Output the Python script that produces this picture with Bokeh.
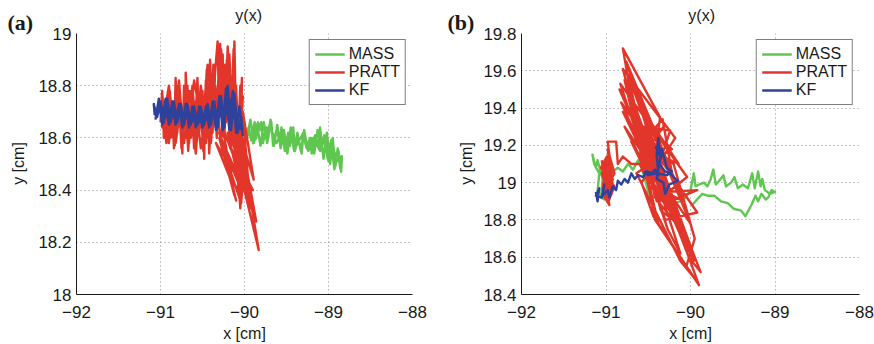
from bokeh.plotting import figure
from bokeh.layouts import row, column
from bokeh.models import (Label, Legend, LegendItem, FixedTicker,
                          CustomJSTickFormatter, Range1d)
from bokeh.embed import file_html
from bokeh.resources import INLINE

# ---------------- data ----------------
x_ticks = [-92, -91, -90, -89, -88]
y_ticks_a = [18, 18.2, 18.4, 18.6, 18.8, 19]
y_ticks_b = [18.4, 18.6, 18.8, 19, 19.2, 19.4, 19.6, 19.8]
series_names = ["MASS", "PRATT", "KF"]
panel_letters = ["(a)", "(b)"]
title_text = "y(x)"
x_label = "x [cm]"
y_label = "y [cm]"

# panel (a) MASS
mass_a_x = [-90.00, -89.95, -89.92, -89.88, -89.86, -89.90, -89.84, -89.80, -89.78, -89.74,
            -89.72, -89.68, -89.66, -89.62, -89.58, -89.56, -89.52, -89.48, -89.46, -89.42,
            -89.40, -89.36, -89.32, -89.30, -89.26, -89.22, -89.20, -89.16, -89.12, -89.10,
            -89.06, -89.02, -88.98, -88.95, -88.92, -88.88, -88.85, -88.84,
            -88.90, -88.96, -89.00, -89.04, -89.10, -89.18, -89.24, -89.30, -89.38, -89.44,
            -89.50, -89.56, -89.62, -89.70, -89.76, -89.84, -89.90, -89.96,
            -89.97, -89.93, -89.89, -89.85, -89.81, -89.77, -89.73, -89.69, -89.65, -89.61,
            -89.57, -89.53, -89.49, -89.45, -89.41, -89.37, -89.33, -89.29, -89.25, -89.21,
            -89.17, -89.13, -89.09, -89.05, -89.01, -88.97, -88.93, -88.89, -88.86]
mass_a_y = [18.62, 18.64, 18.59, 18.66, 18.60, 18.58, 18.62, 18.66, 18.58, 18.64,
            18.60, 18.66, 18.57, 18.63, 18.59, 18.64, 18.55, 18.62, 18.57, 18.64,
            18.55, 18.60, 18.54, 18.61, 18.56, 18.60, 18.54, 18.61, 18.57, 18.64,
            18.52, 18.62, 18.50, 18.60, 18.49, 18.55, 18.47, 18.53,
            18.51, 18.58, 18.51, 18.60, 18.55, 18.60, 18.55, 18.62, 18.57, 18.63,
            18.56, 18.62, 18.58, 18.65, 18.60, 18.66, 18.60, 18.62,
            18.60, 18.67, 18.58, 18.65, 18.57, 18.66, 18.58, 18.67, 18.57, 18.65,
            18.56, 18.63, 18.54, 18.64, 18.55, 18.62, 18.55, 18.63, 18.56, 18.60,
            18.54, 18.63, 18.56, 18.61, 18.52, 18.59, 18.48, 18.56, 18.48]

# panel (a) PRATT
pratt_a_x = [-91.00, -90.98, -90.95, -90.92, -90.90, -90.86, -90.84, -90.82, -90.80, -90.77,
             -90.74, -90.72, -90.70, -90.70, -90.66, -90.63, -90.60, -90.56, -90.54, -90.50,
             -90.48, -90.46, -90.43, -90.41, -90.38, -90.35, -90.32, -90.30, -90.26, -90.24,
             -90.20, -90.16, -90.12, -90.10, -90.14, -90.08, -90.03, -90.05, -90.00, -90.05,
             -90.10, -89.98, -90.12, -89.93, -90.02, -89.89, -90.06, -89.83, -90.15, -90.22,
             -90.28, -90.35, -90.40, -90.45, -90.52, -90.58, -90.64, -90.68, -90.75, -90.80,
             -90.88, -90.94, -90.98, -90.90, -90.85, -90.78, -90.72, -90.65, -90.58, -90.52,
             -90.46, -90.40, -90.34, -90.30, -90.22, -90.18, -90.14, -90.10, -90.06, -90.02,
             -90.08, -90.00, -90.04, -90.30, -90.12, -90.26, -90.00, -90.20, -90.28, -90.18,
             -90.24, -90.36, -90.44, -90.50, -90.60, -90.66, -90.76, -90.82, -90.92, -90.96,
             -90.97, -90.93, -90.89, -90.83, -90.79, -90.75, -90.71, -90.67, -90.62, -90.57,
             -90.53, -90.49, -90.45, -90.42, -90.37, -90.33, -90.29, -90.25, -90.21, -90.17,
             -90.13, -90.09, -90.05, -90.01, -90.07, -89.96, -90.10, -89.90, -90.16, -89.86,
             -90.02, -90.30, -90.10, -90.24, -90.04, -90.20, -89.98, -90.16, -89.92, -90.34,
             -90.14, -90.28, -90.06]
pratt_a_y = [18.66, 18.78, 18.62, 18.76, 18.58, 18.74, 18.56, 18.83, 18.62, 18.78,
             18.54, 18.80, 18.60, 18.85, 18.58, 18.76, 18.56, 18.83, 18.62, 18.78,
             18.52, 18.82, 18.60, 18.90, 18.62, 18.85, 18.97, 18.68, 18.92, 18.60,
             18.95, 18.66, 18.97, 18.62, 18.86, 18.55, 18.83, 18.45, 18.60, 18.33,
             18.58, 18.37, 18.62, 18.33, 18.70, 18.44, 18.62, 18.17, 18.60, 18.78,
             18.58, 18.80, 18.58, 18.72, 18.56, 18.74, 18.60, 18.80, 18.62, 18.76,
             18.60, 18.72, 18.64, 18.80, 18.60, 18.82, 18.58, 18.78, 18.54, 18.80,
             18.58, 18.84, 18.64, 18.90, 18.66, 18.92, 18.58, 18.80, 18.50, 18.76,
             18.40, 18.50, 18.35, 18.60, 18.38, 18.64, 18.42, 18.70, 18.94, 18.64,
             18.88, 18.66, 18.88, 18.64, 18.82, 18.62, 18.72, 18.58, 18.70, 18.60,
             18.74, 18.58, 18.78, 18.57, 18.80, 18.56, 18.76, 18.55, 18.80, 18.58,
             18.76, 18.55, 18.86, 18.54, 18.88, 18.60, 18.96, 18.62, 18.90, 18.56,
             18.94, 18.48, 18.80, 18.40, 18.70, 18.36, 18.52, 18.40, 18.56, 18.28,
             18.56, 18.62, 18.36, 18.56, 18.40, 18.62, 18.46, 18.50, 18.36, 18.58,
             18.42, 18.60, 18.44]

# panel (a) KF
kf_a_x = [-91.06, -91.02, -90.98, -90.94, -90.90, -90.86, -90.82, -90.78, -90.74, -90.70,
          -90.66, -90.62, -90.58, -90.54, -90.50, -90.46, -90.42, -90.38, -90.34, -90.30,
          -90.26, -90.22, -90.18, -90.14, -90.10, -90.06, -90.02,
          -90.04, -90.08, -90.12, -90.16, -90.20, -90.24, -90.28, -90.32, -90.36, -90.40,
          -90.44, -90.48, -90.52, -90.56, -90.60, -90.64, -90.68, -90.72, -90.76, -90.80,
          -90.84, -90.88, -90.92, -90.96, -91.00, -91.04, -91.08, -91.07,
          -91.03, -90.98, -90.93, -90.88, -90.83, -90.78, -90.73, -90.68, -90.63, -90.58,
          -90.53, -90.48, -90.43, -90.38, -90.33, -90.28, -90.23, -90.18, -90.13, -90.08,
          -90.03]
kf_a_y = [18.67, 18.75, 18.65, 18.75, 18.65, 18.74, 18.65, 18.73, 18.64, 18.73,
          18.64, 18.72, 18.64, 18.72, 18.64, 18.72, 18.64, 18.74, 18.63, 18.76,
          18.63, 18.79, 18.63, 18.78, 18.62, 18.72, 18.61,
          18.68, 18.62, 18.77, 18.63, 18.80, 18.64, 18.76, 18.64, 18.74, 18.65,
          18.73, 18.65, 18.72, 18.65, 18.72, 18.65, 18.73, 18.65, 18.73, 18.66,
          18.74, 18.66, 18.75, 18.66, 18.74, 18.68, 18.73, 18.69,
          18.70, 18.72, 18.68, 18.71, 18.67, 18.70, 18.67, 18.70, 18.66, 18.69,
          18.66, 18.69, 18.66, 18.70, 18.67, 18.72, 18.68, 18.75, 18.68, 18.66,
          18.63]

# panel (b) MASS
mass_b_x = [-91.10, -91.08, -91.14, -91.16, -91.12, -91.10, -91.04, -91.06, -91.02, -90.98,
            -90.92, -90.86, -90.80, -90.74, -90.68, -90.62, -90.58, -90.54, -90.50, -90.46,
            -90.40, -90.34, -90.28, -90.20, -90.12, -90.06, -90.00, -89.96, -89.94, -89.90,
            -89.84, -89.80, -89.76, -89.73, -89.70, -89.66, -89.61, -89.58, -89.52, -89.48,
            -89.44, -89.38, -89.32, -89.27, -89.24, -89.20, -89.17, -89.15, -89.12, -89.06,
            -89.00, -89.04, -89.08, -89.11, -89.16, -89.20, -89.23, -89.28, -89.35, -89.40,
            -89.49, -89.56, -89.64, -89.72, -89.80, -89.86, -89.92, -89.98]
mass_b_y = [18.95, 19.05, 19.10, 19.15, 19.08, 19.12, 19.02, 18.92, 18.91, 18.98,
            19.06, 19.08, 19.06, 19.10, 19.07, 19.12, 19.08, 19.02, 18.95, 18.92,
            18.93, 18.90, 18.92, 18.89, 18.90, 18.92, 18.96, 19.05, 18.98, 18.99,
            19.00, 18.98, 19.02, 19.07, 18.99, 19.01, 19.04, 18.98, 19.00, 19.03,
            18.97, 18.99, 18.97, 19.05, 18.97, 19.06, 18.98, 19.02, 18.96, 18.94,
            18.95, 18.96, 18.92, 18.91, 18.94, 18.90, 18.93, 18.88, 18.82, 18.85,
            18.86, 18.89, 18.90, 18.93, 18.93, 18.94, 18.91, 18.88]

# panel (b) PRATT
pratt_b_x = [-91.05, -90.96, -91.04, -90.90, -90.98, -90.92,
             -90.95, -91.02, -90.98, -91.05, -90.96, -91.03, -90.94, -91.00, -90.92, -90.97,
             -90.90, -91.06, -90.99, -91.04, -90.93, -91.01, -90.96, -90.98, -90.88, -90.86,
             -90.80, -90.70, -90.60, -90.55,
             -90.80, -90.36, -90.45, -90.18, -90.80, -90.40, -90.04, -90.83, -90.30, -89.92,
             -90.82, -90.10, -89.90, -90.38, -90.70, -90.02, -89.88, -90.55, -90.24, -90.48,
             -90.78, -90.12, -90.27, -90.60, -90.33, -90.20, -90.76, -90.08, -90.30, -89.92,
             -90.25, -90.50, -90.72, -90.15, -90.35, -90.65, -90.40, -90.58, -90.44, -90.05,
             -89.95, -90.20, -90.62, -90.45, -90.68, -90.22, -90.52, -90.10, -90.42, -90.74,
             -90.00, -90.36,
             -90.84, -90.06, -90.74, -89.96, -90.80, -90.18, -90.66, -90.00, -90.78, -90.28,
             -90.58, -90.14, -90.70, -90.36, -90.50, -90.22, -90.64, -90.12, -89.94, -90.42,
             -90.56, -90.32]
pratt_b_y = [19.12, 18.88, 18.94, 19.05, 19.18, 18.96,
             19.00, 19.10, 18.95, 19.05, 19.12, 18.98, 19.08, 18.92, 19.02, 18.90,
             18.98, 19.08, 19.14, 18.96, 19.06, 18.94, 19.15, 19.22, 19.22, 19.10,
             19.14, 19.10, 19.10, 19.05,
             19.72, 19.35, 19.05, 19.24, 19.61, 18.90, 19.03, 19.53, 18.80, 18.84,
             19.43, 18.70, 18.45, 18.78, 19.40, 18.60, 18.52, 19.30, 19.28, 18.95,
             19.55, 18.62, 18.75, 19.20, 19.34, 19.00, 19.65, 18.90, 18.95, 18.96,
             18.90, 19.10, 19.48, 18.78, 18.85, 19.35, 19.12, 19.00, 18.82, 18.55,
             18.70, 19.10, 19.25, 19.00, 19.44, 18.86, 19.18, 18.74, 18.92, 19.58,
             18.66, 19.05,
             19.50, 18.68, 19.62, 18.58, 19.38, 18.80, 19.50, 18.78, 19.30, 18.86,
             19.40, 19.10, 19.22, 18.90, 19.30, 19.18, 19.05, 18.58, 18.48, 18.80,
             19.15, 19.30]

# panel (b) KF
kf_b_x = [-91.12, -91.10, -91.08, -91.12, -91.05, -91.02, -91.04, -90.98, -90.96, -90.92,
          -90.88, -90.86, -90.82, -90.78, -90.74, -90.70, -90.66, -90.62, -90.56, -90.52,
          -90.46, -90.42, -90.38, -90.40, -90.38, -90.36, -90.41, -90.33, -90.37, -90.30,
          -90.24, -90.20, -90.15, -90.25, -90.30, -90.32, -90.40, -90.34, -90.28, -90.22,
          -90.28, -90.40, -90.50, -90.55]
kf_b_y = [18.95, 18.90, 18.97, 18.93, 18.92, 18.99, 18.93, 18.96, 18.92, 18.98,
          18.96, 19.01, 18.99, 19.02, 19.00, 19.05, 19.02, 19.04, 19.03, 19.06,
          19.05, 19.07, 19.04, 19.15, 19.24, 19.14, 19.19, 19.17, 19.10, 19.06,
          19.05, 19.03, 19.01, 18.99, 18.94, 19.00, 19.02, 19.18, 19.08, 19.06,
          19.04, 19.05, 19.04, 19.06]

# ---------------- style ----------------
FONT = "Liberation Sans"
TEXT_COLOR = "#1a1a1a"
COLORS = ["#5fc64f", "#e2362a", "#2e429c"]
TOTAL_H = 344
STRIP_H = 24
MAIN_H = TOTAL_H - STRIP_H
TOP, BOTTOM = 9, 49

tick_js = """
var r = Math.round(tick);
var s = (Math.abs(tick - r) < 1e-9) ? String(r) : tick.toFixed(1);
return s.replace('-', '\u2212');
"""


def blank(width, height, x0, x1):
    """Axis-less figure in page-pixel coordinates (y grows downward)."""
    f = figure(width=width, height=height, x_range=Range1d(x0, x1),
               y_range=Range1d(height, 0),
               x_axis_type=None, y_axis_type=None, output_backend="svg",
               toolbar_location=None, min_border=0)
    f.outline_line_color = None
    f.xgrid.visible = False
    f.ygrid.visible = False
    f.border_fill_color = "white"
    f.background_fill_color = "white"
    return f


def make_panel(width, left, right, y_ticks, data):
    p = figure(width=width, height=MAIN_H, x_range=Range1d(x_ticks[0], x_ticks[-1]),
               y_range=Range1d(y_ticks[0], y_ticks[-1]), output_backend="svg",
               toolbar_location=None, min_border_left=left, min_border_right=right,
               min_border_top=TOP, min_border_bottom=BOTTOM)
    p.outline_line_color = None
    p.background_fill_color = "white"
    p.border_fill_color = "white"

    for ax, ticks, stand in ((p.xaxis, x_ticks, 11), (p.yaxis, y_ticks, 5)):
        ax.ticker = FixedTicker(ticks=ticks)
        ax.formatter = CustomJSTickFormatter(code=tick_js)
        ax.axis_line_color = "#1a1a1a"
        ax.axis_line_width = 1
        ax.major_tick_line_color = None
        ax.minor_tick_line_color = None
        ax.major_tick_out = 0
        ax.major_tick_in = 0
        ax.major_label_standoff = stand
        ax.major_label_text_font = FONT
        ax.major_label_text_font_size = "17px"
        ax.major_label_text_color = TEXT_COLOR
    p.xaxis.axis_label = x_label
    p.xaxis.axis_label_standoff = 4
    p.xaxis.axis_label_text_font = FONT
    p.xaxis.axis_label_text_font_size = "16px"
    p.xaxis.axis_label_text_font_style = "normal"
    p.xaxis.axis_label_text_color = TEXT_COLOR

    for g in (p.xgrid, p.ygrid):
        g.grid_line_color = "#8c8c8c"
        g.grid_line_dash = "1 3"
        g.grid_line_width = 1

    items = []
    for name, (xs, ys), col in zip(series_names, data, COLORS):
        r = p.line(xs, ys, line_color=col, line_width=2.4, line_join="round")
        items.append(LegendItem(label=name, renderers=[r]))

    leg = Legend(items=items, location="top_right", margin=6, padding=5, spacing=0,
                 glyph_width=30, glyph_height=18, label_height=18, label_standoff=4,
                 label_text_font=FONT, label_text_font_size="16px",
                 label_text_color=TEXT_COLOR,
                 border_line_color="black", border_line_width=1,
                 background_fill_color="white", background_fill_alpha=1.0)
    p.add_layout(leg)
    return p


def side_column(x0, x1, letter, letter_x, ylab_x):
    f = blank(x1 - x0, TOTAL_H, x0, x1)
    f.add_layout(Label(x=letter_x, y=22, text=letter, text_align="left",
                       text_baseline="middle", text_font="Liberation Serif",
                       text_font_style="bold", text_font_size="22px", text_color=TEXT_COLOR))
    f.add_layout(Label(x=ylab_x, y=163, text=y_label, text_align="center",
                       text_baseline="middle", angle=1.5707963, text_font=FONT,
                       text_font_size="16px", text_color=TEXT_COLOR))
    return f


def title_strip(x0, x1, cx):
    f = blank(x1 - x0, STRIP_H, x0, x1)
    f.add_layout(Label(x=cx, y=STRIP_H - 0.5, text=title_text, text_align="center",
                       text_baseline="bottom", text_font=FONT, text_font_size="16px",
                       text_color=TEXT_COLOR))
    return f


# panel (a): page x 0..440 ; panel (b): page x 440..874
side_a = side_column(0, 35, panel_letters[0], 7, 18)
pa = make_panel(405, 38, 28, y_ticks_a,
                [(mass_a_x, mass_a_y), (pratt_a_x, pratt_a_y), (kf_a_x, kf_a_y)])
strip_a = title_strip(35, 440, 242.5)

side_b = side_column(440, 480, panel_letters[1], 447, 466)
pb = make_panel(394, 41, 15, y_ticks_b,
                [(mass_b_x, mass_b_y), (pratt_b_x, pratt_b_y), (kf_b_x, kf_b_y)])
strip_b = title_strip(480, 874, 690)

layout = row(side_a, column(strip_a, pa, spacing=0),
             side_b, column(strip_b, pb, spacing=0), spacing=0)
open("out.html", "w").write(file_html(layout, INLINE))
